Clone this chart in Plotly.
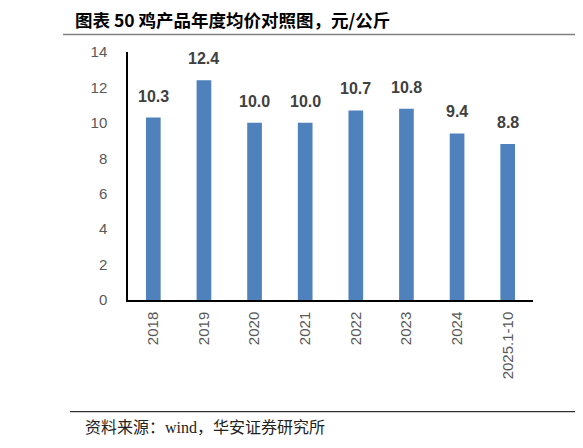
import plotly.graph_objects as go

# chicken product yearly average price, yuan/kg
years = ['2018', '2019', '2020', '2021', '2022', '2023', '2024', '2025.1-10']
prices = [10.3, 12.4, 10.0, 10.0, 10.7, 10.8, 9.4, 8.8]
y_ticks = [0, 2, 4, 6, 8, 10, 12, 14]

title_text = '图表 50 鸡产品年度均价对照图，元/公斤'
source_text = '资料来源：wind，华安证券研究所'

# page body has an 8px margin, so the figure is shrunk/shifted by that
OFF = 8
W, H = 583 - OFF, 448 - OFF
L, R, T, B = 128 - OFF, 50, 52 - OFF, 148
pw, ph = W - L - R, H - T - B

def px(x):
    return (x - OFF - L) / pw

def py(y):
    return (H - B - (y - OFF)) / ph

bar = go.Bar(
    x=years, y=prices,
    marker=dict(color='#4f81bd', line=dict(width=0)),
    hoverinfo='x+y'
)

fig = go.Figure(data=[bar])

# value labels above bars (category axis -> use the category index,
# numeric-looking strings would be read as serial numbers)
for i, v in enumerate(prices):
    fig.add_annotation(x=i, y=v, text='<b>%.1f</b>' % v, showarrow=False,
                       yanchor='bottom', yshift=11,
                       font=dict(family='Liberation Sans', size=16, color='#404040'))

fig.add_annotation(xref='paper', yref='paper', x=px(74), y=py(19.5),
                   xanchor='left', yanchor='middle', showarrow=False,
                   borderpad=0,
                   text='<b>' + title_text + '</b>',
                   font=dict(family='Noto Sans CJK SC', size=17.5, color='#000000'))
fig.add_annotation(xref='paper', yref='paper', x=px(83), y=py(427),
                   xanchor='left', yanchor='middle', showarrow=False,
                   text=source_text,
                   font=dict(family='Liberation Serif, Noto Sans CJK SC', size=16, color='#222222'))

fig.add_shape(type='line', xref='paper', yref='paper',
              x0=px(63), x1=px(583), y0=py(34.5), y1=py(34.5),
              line=dict(color='#7f7f7f', width=1.5))
fig.add_shape(type='line', xref='paper', yref='paper',
              x0=px(70), x1=px(583), y0=py(411.7), y1=py(411.7),
              line=dict(color='#000000', width=1))

fig.update_layout(
    width=W, height=H,
    margin=dict(l=L, r=R, t=T, b=B),
    paper_bgcolor='white', plot_bgcolor='white',
    bargap=0.71,
    showlegend=False,
    xaxis=dict(type='category', showline=True, linecolor='#000000', linewidth=1.5,
               showgrid=False, ticks='', tickangle=-90,
               tickfont=dict(family='Liberation Sans', size=15, color='#595959'),
               ticklabelstandoff=4),
    yaxis=dict(range=[0, 14], tickvals=y_ticks, showline=True,
               linecolor='#000000', linewidth=1.5, showgrid=False,
               zeroline=False, ticks='',
               tickfont=dict(family='Liberation Sans', size=15, color='#595959'),
               ticklabelstandoff=16),
)

fig.write_html('out.html')
